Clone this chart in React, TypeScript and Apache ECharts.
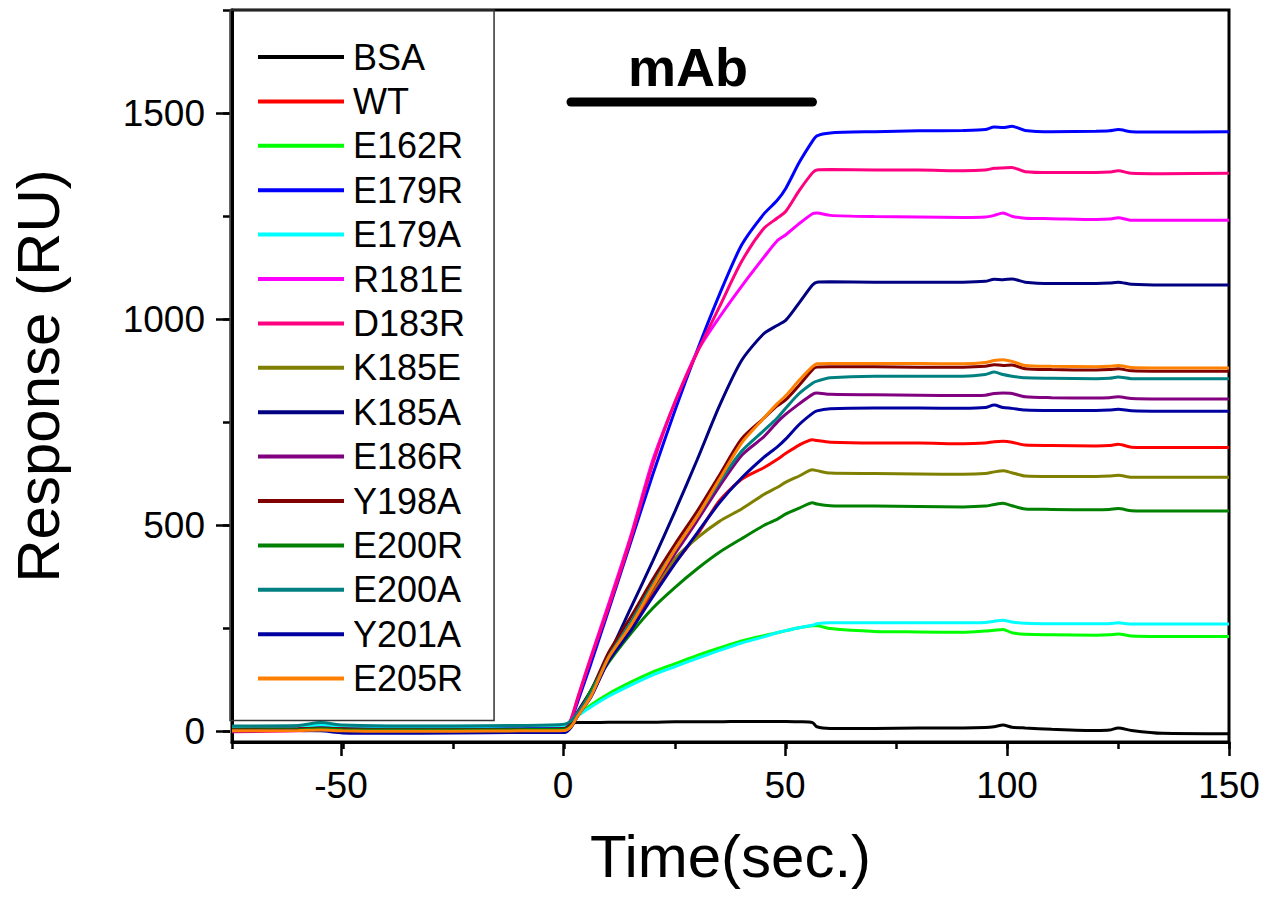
import React, { useEffect, useRef } from "react";
import * as echarts from "echarts";

// Time points (s) shared by all sensorgrams
const timeSec = [-75, -60, -55, -50, -40, -25, -10, 0, 1.5, 3, 6, 10, 15, 20, 25, 30, 35, 40, 45, 48, 50, 53, 56, 57, 60, 70, 80, 90, 95, 97, 99, 101, 104, 110, 120, 123, 125, 128, 135, 150];

// Response (RU) per analyte
const bsa = [5, 6, 7, 5, 4, 4, 5, 6, 20, 22, 22, 23, 23, 23, 24, 24, 24, 25, 25, 25, 25, 24, 22, 12, 8, 8, 9, 9, 10, 12, 16, 11, 9, 6, 3, 4, 9, 3, -4, -5];
const wt = [3, 4, 6, 3, 2, 3, 3, 5, 15, 40, 85, 175, 255, 335, 410, 478, 560, 612, 640, 660, 675, 695, 708, 706, 702, 700, 700, 698, 700, 703, 704, 702, 695, 694, 693, 694, 697, 690, 689, 689];
const e162r = [10, 11, 14, 12, 11, 11, 12, 12, 22, 40, 65, 92, 120, 145, 165, 185, 203, 220, 233, 240, 245, 252, 257, 257, 250, 243, 242, 241, 244, 246, 248, 240, 236, 235, 234, 235, 237, 232, 231, 231];
const e179r = [8, 9, 12, 10, 8, 9, 10, 12, 28, 72, 165, 295, 460, 625, 780, 925, 1060, 1180, 1255, 1288, 1318, 1380, 1432, 1445, 1452, 1455, 1457, 1458, 1460, 1466, 1465, 1468, 1458, 1455, 1456, 1457, 1460, 1455, 1454, 1455];
const e179a = [12, 13, 16, 14, 13, 13, 14, 15, 22, 38, 60, 86, 113, 138, 158, 178, 197, 215, 230, 240, 245, 252, 258, 262, 264, 264, 264, 264, 265, 268, 270, 266, 263, 262, 262, 262, 264, 261, 261, 261];
const r181e = [2, 3, 5, 3, 2, 3, 3, 5, 30, 82, 182, 310, 475, 660, 800, 922, 1005, 1080, 1150, 1190, 1205, 1232, 1256, 1258, 1252, 1249, 1248, 1247, 1248, 1252, 1258, 1250, 1245, 1244, 1242, 1243, 1246, 1240, 1240, 1240];
const d183r = [0, 2, 4, 3, 2, 2, 3, 4, 29, 80, 178, 302, 468, 650, 800, 920, 1030, 1140, 1220, 1245, 1262, 1312, 1355, 1362, 1363, 1362, 1362, 1360, 1362, 1366, 1367, 1368, 1358, 1356, 1356, 1357, 1360, 1354, 1353, 1354];
const k185e = [4, 5, 7, 5, 4, 4, 5, 6, 16, 40, 88, 178, 262, 345, 420, 470, 510, 540, 575, 592, 605, 620, 635, 633, 627, 626, 625, 624, 626, 630, 633, 628, 620, 619, 619, 620, 622, 617, 617, 617];
const k185a = [5, 6, 8, 5, 3, 3, 4, 6, 18, 48, 100, 185, 300, 415, 535, 660, 790, 900, 965, 985, 998, 1040, 1083, 1090, 1091, 1090, 1090, 1090, 1092, 1097, 1096, 1098, 1090, 1087, 1087, 1088, 1090, 1085, 1083, 1083];
const e186r = [5, 6, 8, 6, 4, 4, 5, 6, 17, 42, 90, 182, 262, 350, 432, 512, 595, 670, 715, 750, 770, 795, 818, 821, 818, 817, 816, 815, 816, 820, 821, 820, 812, 810, 809, 810, 812, 808, 807, 807];
const y198a = [6, 7, 9, 7, 5, 5, 6, 8, 18, 46, 98, 192, 278, 370, 455, 535, 622, 710, 760, 790, 805, 840, 878, 884, 885, 885, 884, 884, 886, 890, 888, 889, 880, 878, 877, 878, 880, 875, 874, 874];
const e200r = [4, 5, 7, 5, 4, 4, 5, 6, 14, 38, 100, 168, 238, 300, 350, 395, 435, 468, 500, 515, 528, 542, 555, 552, 548, 547, 546, 545, 547, 551, 554, 548, 540, 539, 538, 539, 541, 536, 535, 535];
const e200a = [14, 15, 22, 16, 14, 14, 15, 18, 26, 46, 92, 182, 265, 358, 442, 522, 605, 680, 730, 760, 785, 820, 845, 850, 858, 862, 862, 862, 866, 872, 866, 862, 858, 857, 856, 857, 860, 856, 856, 856];
const y201a = [2, 3, 2, -3, -4, -3, -2, -2, 10, 38, 84, 172, 245, 328, 408, 482, 555, 615, 665, 690, 710, 745, 772, 778, 783, 785, 785, 784, 786, 792, 786, 784, 780, 779, 779, 780, 782, 778, 777, 777];
const e205r = [2, 3, 4, 2, 1, 1, 2, 3, 12, 38, 86, 180, 258, 352, 442, 522, 612, 700, 760, 795, 815, 852, 885, 892, 893, 893, 893, 892, 895, 900, 902, 898, 888, 886, 885, 886, 888, 883, 882, 882];

const seriesNames = ["BSA", "WT", "E162R", "E179R", "E179A", "R181E", "D183R", "K185E", "K185A", "E186R", "Y198A", "E200R", "E200A", "Y201A", "E205R"];
const seriesValues = [bsa, wt, e162r, e179r, e179a, r181e, d183r, k185e, k185a, e186r, y198a, e200r, e200a, y201a, e205r];
const seriesColors = ["#000000", "#ff0000", "#00ff00", "#0000ff", "#00ffff", "#ff00ff", "#ff0080", "#808000", "#000080", "#800080", "#800000", "#008000", "#008080", "#0000a0", "#ff8000"];

// mAb injection bar
const mAbLabel = "mAb";
const mAbBarTime = [1.5, 56];
const mAbBarLevel = 1527;

const FONT = "'Liberation Sans', Arial, Helvetica, sans-serif";

export default function App() {
  const ref = useRef<HTMLDivElement>(null);

  useEffect(() => {
    if (!ref.current) return;
    const chart = echarts.init(ref.current, null, { renderer: "svg" });

    const lineSeries = seriesNames.map((name, i) => ({
      name,
      type: "line",
      xAxisIndex: 0,
      yAxisIndex: 0,
      data: timeSec.map((t, j) => [t, seriesValues[i][j]]),
      showSymbol: false,
      symbol: "none",
      smooth: 0.25,
      color: seriesColors[i],
      lineStyle: { width: 3, color: seriesColors[i] },
      z: 3,
    }));

    const barSeries = {
      name: "mAb injection",
      type: "line",
      xAxisIndex: 0,
      yAxisIndex: 0,
      data: mAbBarTime.map((t) => [t, mAbBarLevel]),
      showSymbol: false,
      symbol: "none",
      silent: true,
      lineStyle: { width: 9, color: "#000", cap: "round" },
      z: 5,
    };

    const tickStyle = { color: "#000", width: 2.5 };
    const plain = (v: number) => String(v);

    chart.setOption({
      animation: false,
      backgroundColor: "#fff",
      grid: [
        { left: 230, right: 52, top: 10, bottom: 157, show: true, borderColor: "#000", borderWidth: 3, backgroundColor: "transparent" },
        { left: 230, right: 52, top: 10, bottom: 167.31 },
        { left: 230, right: 52, top: 113.1, bottom: 167.31 },
        { left: 341, right: 52, top: 10, bottom: 157 },
      ],
      xAxis: [
        {
          gridIndex: 0,
          type: "value",
          min: -75,
          max: 150,
          interval: 25,
          axisLine: { show: true, onZero: false, lineStyle: { color: "#000", width: 3 } },
          axisTick: { show: true, length: 7, lineStyle: tickStyle },
          axisLabel: { show: false },
          splitLine: { show: false },
          name: "Time(sec.)",
          nameLocation: "middle",
          nameGap: 84,
          nameTextStyle: { fontSize: 60, fontFamily: FONT, color: "#000" },
        },
        { gridIndex: 1, type: "value", min: -75, max: 150, show: false, axisLine: { onZero: false } },
        { gridIndex: 2, type: "value", min: -75, max: 150, show: false, axisLine: { onZero: false } },
        {
          gridIndex: 3,
          type: "value",
          min: -50,
          max: 150,
          interval: 50,
          axisLine: { show: false, onZero: false },
          axisTick: { show: true, length: 14, lineStyle: tickStyle },
          axisLabel: { show: true, fontSize: 37, margin: 25, fontFamily: FONT, color: "#000", formatter: plain },
          splitLine: { show: false },
        },
      ],
      yAxis: [
        {
          gridIndex: 0,
          type: "value",
          min: -25,
          max: 1750,
          axisLine: { show: true, onZero: false, lineStyle: { color: "#000", width: 3 } },
          axisTick: { show: false },
          axisLabel: { show: false },
          splitLine: { show: false },
          name: "Response (RU)",
          nameLocation: "middle",
          nameGap: 164,
          nameRotate: 90,
          nameTextStyle: { fontSize: 60, fontFamily: FONT, color: "#000" },
        },
        {
          gridIndex: 1,
          type: "value",
          min: 0,
          max: 1750,
          interval: 250,
          axisLine: { show: false, onZero: false },
          axisTick: { show: true, length: 7, lineStyle: tickStyle },
          axisLabel: { show: false },
          splitLine: { show: false },
        },
        {
          gridIndex: 2,
          type: "value",
          min: 0,
          max: 1500,
          interval: 500,
          axisLine: { show: false, onZero: false },
          axisTick: { show: true, length: 14, lineStyle: tickStyle },
          axisLabel: { show: true, fontSize: 37, margin: 25, fontFamily: FONT, color: "#000", formatter: plain },
          splitLine: { show: false },
        },
        { gridIndex: 3, type: "value", min: 0, max: 1, show: false, axisLine: { onZero: false } },
      ],
      legend: {
        data: seriesNames,
        orient: "vertical",
        left: 230,
        top: 10,
        padding: [29, 29, 24, 28],
        itemWidth: 86,
        itemHeight: 4,
        icon: "rect",
        itemGap: 8.4,
        selectedMode: false,
        borderColor: "#333",
        borderWidth: 1.5,
        textStyle: { fontSize: 36, fontFamily: FONT, color: "#000", lineHeight: 36, padding: [0, 0, 0, 4] },
      },
      graphic: [
        {
          type: "text",
          x: 688,
          y: 67,
          style: {
            text: mAbLabel,
            fontSize: 54,
            fontWeight: "bold",
            fontFamily: FONT,
            fill: "#000",
            align: "center",
            verticalAlign: "middle",
          },
        },
      ],
      series: [...lineSeries, barSeries],
    });

    return () => {
      chart.dispose();
    };
  }, []);

  return <div ref={ref} style={{ position: "absolute", left: 0, top: 0, width: 1281, height: 899 }} />;
}
